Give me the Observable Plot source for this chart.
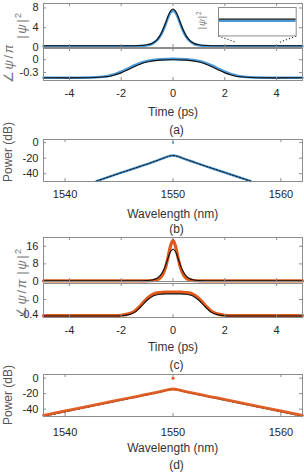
<!DOCTYPE html>
<html><head><meta charset="utf-8">
<script src="https://cdn.jsdelivr.net/npm/d3@7"></script>
<script src="https://cdn.jsdelivr.net/npm/@observablehq/plot@0.6"></script>
<style>
html,body{margin:0;padding:0;background:#fff;}
#fig{position:relative;width:304px;height:472px;overflow:hidden;font-family:"Liberation Sans",Arial,sans-serif;background:#fff;}
#fig svg{position:absolute;left:0;overflow:visible;}
.lbl{position:absolute;transform:translate(-50%,-50%);white-space:nowrap;font-size:12px;color:#333;line-height:1;}
.ylbl{position:absolute;transform:translate(-50%,-50%) rotate(-90deg);white-space:nowrap;font-size:12px;color:#777;line-height:1;}
</style></head><body><div id="fig"></div>
<script>
// ---------- data ----------
const timeA = [-5,-2,-1.3,-1,-0.8,-0.6,-0.5,-0.4,-0.3,-0.2,-0.1,0,0.1,0.2,0.3,0.4,0.5,0.6,0.8,1,1.3,2,5];
const powA_sim = [0.25,0.25,0.29,0.44,0.76,1.55,2.27,3.27,4.55,5.91,7.02,7.45,7.02,5.91,4.55,3.27,2.27,1.55,0.76,0.44,0.29,0.25,0.25];
const powA_ref = [0.35,0.35,0.40,0.55,0.88,1.70,2.44,3.48,4.79,6.21,7.35,7.80,7.35,6.21,4.79,3.48,2.44,1.70,0.88,0.55,0.40,0.35,0.35];

const phTimeA = [-5,-3,-2.5,-2.25,-2,-1.75,-1.5,-1.25,-1,-0.5,0,0.5,1,1.25,1.5,1.75,2,2.25,2.5,3,5];
const phA_ref = [-0.425,-0.42,-0.395,-0.36,-0.31,-0.24,-0.165,-0.10,-0.055,-0.01,0,-0.01,-0.055,-0.10,-0.165,-0.24,-0.31,-0.36,-0.395,-0.42,-0.425];
const phA_sim = [-0.425,-0.415,-0.385,-0.34,-0.285,-0.21,-0.135,-0.075,-0.03,0.01,0.02,0.01,-0.03,-0.075,-0.135,-0.21,-0.285,-0.34,-0.385,-0.415,-0.425];

const wlB = [1542.9,1545,1547,1548,1549,1549.5,1550,1550.5,1551,1552,1553,1555,1557.2];
const specB_sim = [-49.5,-39.6,-30.4,-25.6,-20.5,-17.9,-16.5,-17.9,-20.5,-25.4,-30.2,-39.4,-49.5];
const specB_ref = [-49.5,-39.6,-30.4,-25.6,-20.6,-18.0,-16.6,-18.0,-20.6,-25.4,-30.2,-39.4,-49.5];
const cwB = [{wl: 1550, p: 0}];

const timeC = [-5,-2,-1,-0.8,-0.6,-0.5,-0.4,-0.3,-0.2,-0.1,0,0.1,0.2,0.3,0.4,0.5,0.6,0.8,1,2,5];
const powC_sim = [0.3,0.3,0.32,0.42,0.89,1.59,3.05,5.88,10.54,15.96,18.7,15.96,10.54,5.88,3.05,1.59,0.89,0.42,0.32,0.3,0.3];
const powC_ref = [0.3,0.3,0.41,0.69,1.60,2.65,4.37,7.0,10.34,13.47,14.8,13.47,10.34,7.0,4.37,2.65,1.60,0.69,0.41,0.3,0.3];

const phTimeC = [-5,-2.5,-2,-1.75,-1.5,-1.25,-1,-0.75,-0.5,-0.25,0,0.25,0.5,0.75,1,1.25,1.5,1.75,2,2.5,5];
const phC_sim = [-0.43,-0.43,-0.42,-0.39,-0.32,-0.16,0.03,0.15,0.185,0.195,0.195,0.195,0.185,0.15,0.03,-0.16,-0.32,-0.39,-0.42,-0.43,-0.43];
const phC_ref = [-0.44,-0.44,-0.435,-0.41,-0.35,-0.20,-0.02,0.10,0.14,0.15,0.15,0.15,0.14,0.10,-0.02,-0.20,-0.35,-0.41,-0.435,-0.44,-0.44];

const wlD = [1538,1540,1542,1544,1546,1548,1549,1549.5,1550,1550.5,1551,1552,1554,1556,1558,1560,1562];
const specD_sim = [-48,-42.3,-36.6,-31,-25.3,-19.8,-16.8,-15,-14,-15,-16.8,-19.8,-25.3,-31,-36.6,-42.3,-48];
const specD_ref = [-49.3,-43.5,-37.7,-32,-26.2,-20.4,-17.3,-15.5,-14.5,-15.5,-17.3,-20.4,-26.2,-32,-37.7,-43.5,-49.3];
const cwD = [{wl: 1550, p: 0}];

const timeTicks = [-4,-2,0,2,4];
const wlTicks = [1540,1550,1560];
const yTicksA1 = [0,4,8], yTicksA2 = [-0.3,0], yTicksSpec = [-40,-20,0];
const yTicksC1 = [0,8,16], yTicksC2 = [-0.4,0];

// inset (zoom on baseline of panel a)
const insetBox = {t: [1.75, 4.75], v: [2.3, 8.05]};   // where the inset sits, in panel-a data units
const zoomWin = {t: [2.45, 4.1], v: [-0.62, 1.02]};   // region shown by inset

// ---------- helpers ----------
const BLUE = "#4a98d6", ORANGE = "#e0581c", BLACK = "#111", FRAME = "#8c8c8c";
const fig = document.getElementById("fig");
const zip = (xs, ys) => xs.map((x, i) => ({x, y: ys[i]}));
const fmt = d => String(d);

function panel({top, h, xDomain, yDomain, xTicks, yTicks, xLabels, xPad, marks}) {
  const mt = 10, mb = 26, ml = 43, mr = 2, iw = 304 - ml - mr;
  const m = [
    ...marks,
    Plot.tickX(xTicks, {x: d => d, stroke: FRAME, insetTop: h - 3}),
    Plot.tickX(xTicks, {x: d => d, stroke: FRAME, insetBottom: h - 3}),
    Plot.tickY(yTicks, {y: d => d, stroke: FRAME, insetRight: iw - 3}),
    Plot.tickY(yTicks, {y: d => d, stroke: FRAME, insetLeft: iw - 3}),
    Plot.frame({stroke: FRAME}),
    Plot.axisY(yTicks, {anchor: "left", tickSize: 0, tickPadding: 5, tickFormat: fmt, label: null})
  ];
  if (xLabels) m.push(Plot.axisX(xTicks, {anchor: "bottom", tickSize: 0, tickPadding: xPad, tickFormat: fmt, label: null}));
  const svg = Plot.plot({
    width: 304, height: h + mt + mb, marginLeft: ml, marginRight: mr, marginTop: mt, marginBottom: mb,
    x: {domain: xDomain, axis: null}, y: {domain: yDomain, axis: null},
    style: {fontFamily: "'Liberation Sans', Arial, sans-serif", fontSize: "11px", color: "#262626", background: "none", overflow: "visible"},
    marks: m
  });
  svg.style.top = (top - mt) + "px";
  svg.dataset.offset = top - mt;
  fig.appendChild(svg);
  return svg;
}
function label(text, x, y, cls = "lbl", extra = "") {
  const d = document.createElement("div");
  d.className = cls; d.innerHTML = text;
  d.style.left = x + "px"; d.style.top = y + "px";
  if (extra) d.style.cssText += extra;
  fig.appendChild(d);
}
const lineOpts = (stroke, w, extra = {}) => ({x: "x", y: "y", stroke, strokeWidth: w, curve: "catmull-rom", ...extra});

// ---------- panel (a) ----------
const connectors = [
  {x1: insetBox.t[0], y1: insetBox.v[0], x2: zoomWin.t[0], y2: zoomWin.v[1]},
  {x1: insetBox.t[1], y1: insetBox.v[0], x2: zoomWin.t[1], y2: zoomWin.v[1]}
];
const a1 = panel({top: 3, h: 44, xDomain: [-5, 5], yDomain: [0, 8.9], xTicks: timeTicks, yTicks: yTicksA1, xLabels: false,
  marks: [
    Plot.line(zip(timeA, powA_sim), lineOpts(BLUE, 2.6)),
    Plot.line(zip(timeA, powA_ref), lineOpts(BLACK, 1.1)),
    Plot.link(connectors, {x1: "x1", y1: "y1", x2: "x2", y2: "y2", stroke: "#333", strokeDasharray: "1.2,2", strokeWidth: 1.1})
  ]});
panel({top: 48, h: 32, xDomain: [-5, 5], yDomain: [-0.49, 0.265], xTicks: timeTicks, yTicks: yTicksA2, xLabels: true, xPad: 9,
  marks: [
    Plot.line(zip(phTimeA, phA_sim), lineOpts(BLUE, 2.6)),
    Plot.line(zip(phTimeA, phA_ref), lineOpts(BLACK, 1.1))
  ]});

// inset (positioned with panel a's own scales)
{
  const off = +a1.dataset.offset;
  const sx = a1.scale("x"), sy = a1.scale("y");
  const x0 = sx.apply(insetBox.t[0]), x1 = sx.apply(insetBox.t[1]);
  const y0 = sy.apply(insetBox.v[1]) + off, y1 = sy.apply(insetBox.v[0]) + off;
  const ins = Plot.plot({
    width: x1 - x0, height: y1 - y0, margin: 0,
    x: {domain: zoomWin.t, axis: null}, y: {domain: zoomWin.v, axis: null},
    style: {background: "#fff", overflow: "visible"},
    marks: [
      Plot.line(zip(timeA, powA_sim), lineOpts(BLUE, 2.4, {clip: true, curve: "linear"})),
      Plot.line(zip(timeA, powA_ref), lineOpts(BLACK, 1.1, {clip: true, curve: "linear"})),
      Plot.frame({stroke: FRAME})
    ]
  });
  ins.style.top = y0 + "px"; ins.style.left = x0 + "px";
  fig.appendChild(ins);
  label('|<i>ψ</i>|<sup style="font-size:6.5px">2</sup>', x0 - 17, (y0 + y1) / 2 - 1, "ylbl", "font-size:9.5px;letter-spacing:0.8px;");
}

// ---------- panel (b) ----------
panel({top: 139, h: 42, xDomain: [1538, 1562], yDomain: [-50, 4], xTicks: wlTicks, yTicks: yTicksSpec, xLabels: true, xPad: 9,
  marks: [
    Plot.line(zip(wlB, specB_sim), lineOpts(BLUE, 2.4, {curve: "monotone-x"})),
    Plot.line(zip(wlB, specB_ref), lineOpts(BLACK, 1, {curve: "monotone-x", strokeDasharray: "2,1.5"})),
    Plot.dot(cwB, {x: "wl", y: "p", r: 1.2, fill: BLUE, stroke: null})
  ]});

// ---------- panel (c) ----------
panel({top: 237, h: 44, xDomain: [-5, 5], yDomain: [0, 20], xTicks: timeTicks, yTicks: yTicksC1, xLabels: false,
  marks: [
    Plot.line(zip(timeC, powC_sim), lineOpts(ORANGE, 3.2)),
    Plot.line(zip(timeC, powC_ref), lineOpts(BLACK, 1.1))
  ]});
panel({top: 283, h: 34, xDomain: [-5, 5], yDomain: [-0.48, 0.427], xTicks: timeTicks, yTicks: yTicksC2, xLabels: true, xPad: 9,
  marks: [
    Plot.line(zip(phTimeC, phC_sim), lineOpts(ORANGE, 3.2)),
    Plot.line(zip(phTimeC, phC_ref), lineOpts(BLACK, 1.1))
  ]});

// ---------- panel (d) ----------
panel({top: 374, h: 42, xDomain: [1538, 1562], yDomain: [-49.5, 4.7], xTicks: wlTicks, yTicks: yTicksSpec, xLabels: true, xPad: 12,
  marks: [
    Plot.line(zip(wlD, specD_ref), lineOpts(BLACK, 1.2, {curve: "monotone-x", strokeDasharray: "2,1.5"})),
    Plot.line(zip(wlD, specD_sim), lineOpts(ORANGE, 2.8, {curve: "monotone-x", strokeOpacity: 0.95})),
    Plot.dot(cwD, {x: "wl", y: "p", r: 1.5, fill: ORANGE, stroke: null})
  ]});

// ---------- text ----------
const psiSq = '|<i>ψ</i>|<sup style="font-size:9px">2</sup>';
const angPsi = '∠<i>ψ</i>/<i>π</i>';
const greekStyle = "font-size:13px;letter-spacing:1.5px;";
label(psiSq, 21, 25, "ylbl", greekStyle);
label(angPsi, 8, 63, "ylbl", greekStyle);
label("Time (ps)", 173, 112);
label("(a)", 176.5, 129.5);
label("Power (dB)", 8, 152, "ylbl", "color:#555;");
label("Wavelength (nm)", 172.7, 213.5);
label("(b)", 176.5, 228.5);
label(psiSq, 21, 261, "ylbl", greekStyle);
label(angPsi, 21, 298, "ylbl", greekStyle);
label("Time (ps)", 173, 347);
label("(c)", 176.5, 365);
label("Power (dB)", 8, 395, "ylbl", "color:#555;");
label("Wavelength (nm)", 172.7, 448);
label("(d)", 176.5, 465);
</script></body></html>
